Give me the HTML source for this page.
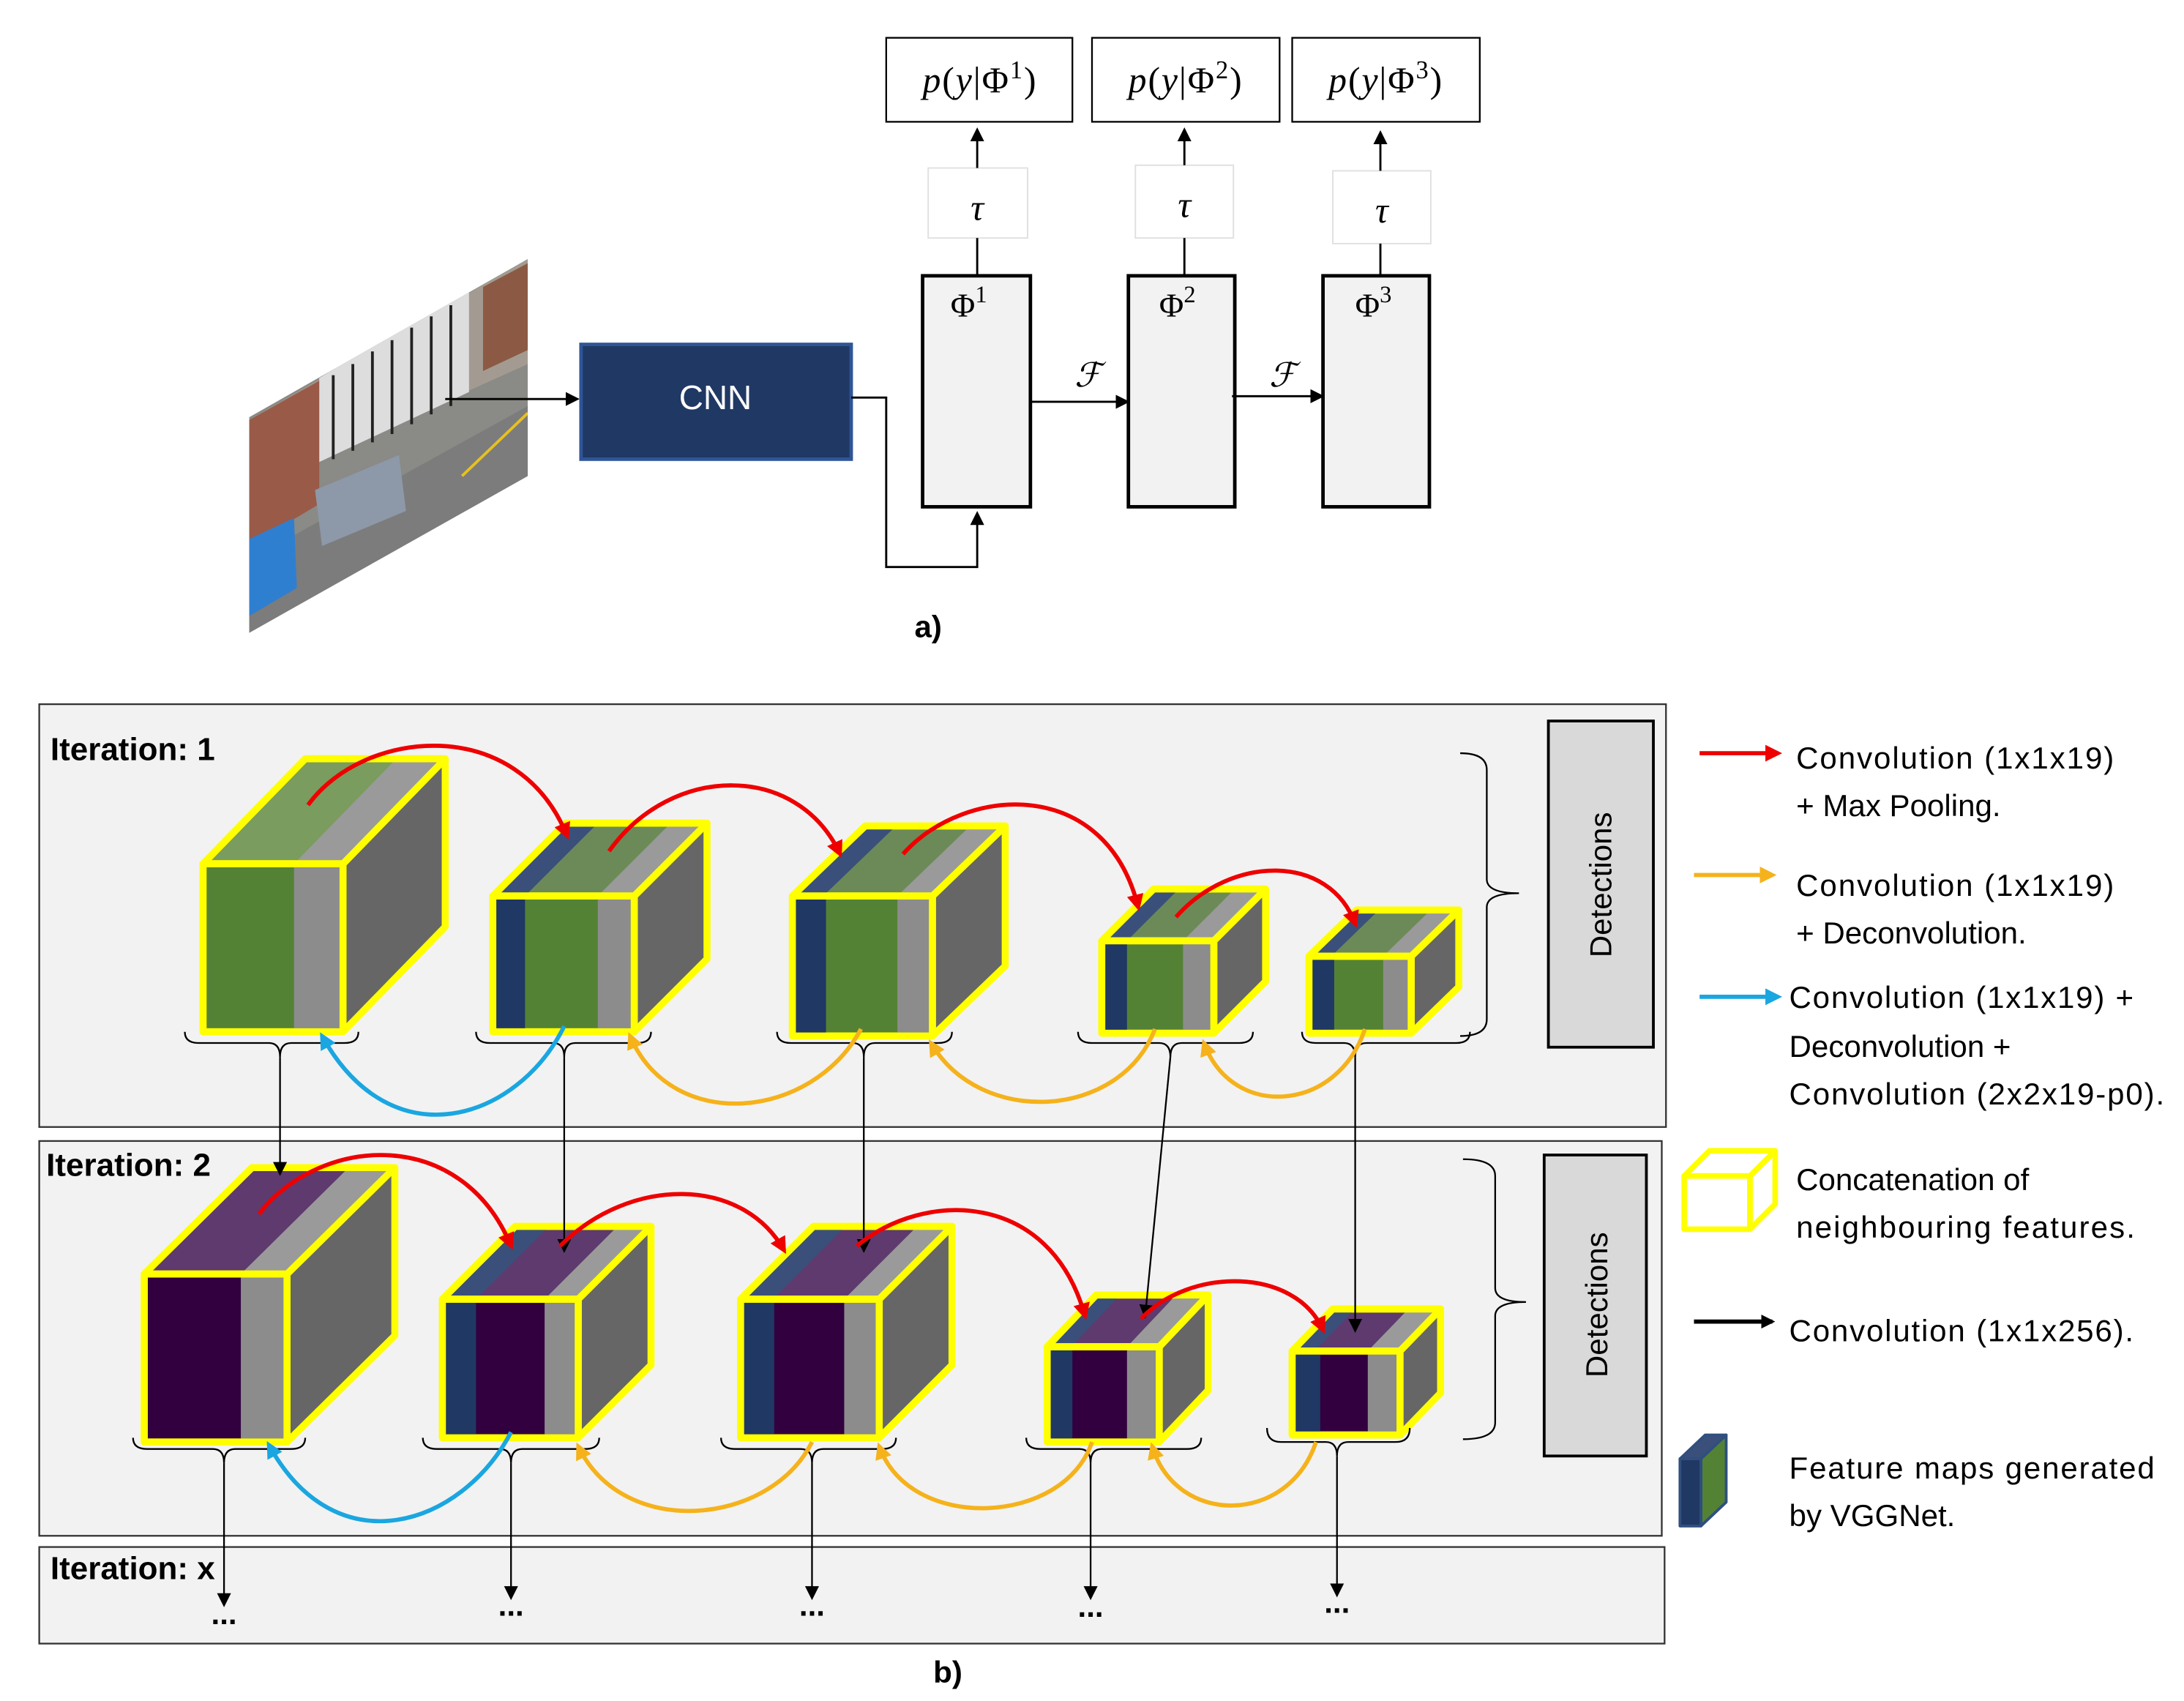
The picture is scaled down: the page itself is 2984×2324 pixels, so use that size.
<!DOCTYPE html>
<html><head><meta charset="utf-8"><style>
html,body{margin:0;padding:0;background:#fff;}
svg{display:block;}
text{font-family:"Liberation Sans",sans-serif;}
.m{font-family:"Liberation Serif",serif;font-style:italic;}
</style></head><body>
<svg width="2984" height="2324" viewBox="0 0 1560 1215" xmlns="http://www.w3.org/2000/svg">
<defs>
<marker id="ak" markerWidth="10" markerHeight="10" refX="8" refY="5" orient="auto" markerUnits="userSpaceOnUse"><path d="M0,0 L10,5 L0,10 z" fill="#000"/></marker>
<marker id="ar" markerWidth="12" markerHeight="12" refX="9" refY="6" orient="auto" markerUnits="userSpaceOnUse"><path d="M0,0 L12,6 L0,12 z" fill="#e00"/></marker>
<marker id="ao" markerWidth="12" markerHeight="12" refX="9" refY="6" orient="auto" markerUnits="userSpaceOnUse"><path d="M0,0 L12,6 L0,12 z" fill="#f5b21b"/></marker>
<marker id="ab" markerWidth="12" markerHeight="12" refX="9" refY="6" orient="auto" markerUnits="userSpaceOnUse"><path d="M0,0 L12,6 L0,12 z" fill="#1aa6e0"/></marker>
<clipPath id="ph"><polygon points="178,298 377,185 377,340 178,452"/></clipPath>
</defs>

<!-- photo -->
<g clip-path="url(#ph)">
<rect x="178" y="185" width="200" height="270" fill="#8a8a86"/>
<polygon points="178,300 377,185 377,260 178,350" fill="#a39b92"/>
<polygon points="228,270 335,205 335,280 228,330" fill="#ddd"/>
<g stroke="#222" stroke-width="2">
<line x1="238" y1="268" x2="238" y2="328"/><line x1="252" y1="260" x2="252" y2="322"/><line x1="266" y1="251" x2="266" y2="316"/><line x1="280" y1="243" x2="280" y2="310"/><line x1="294" y1="234" x2="294" y2="303"/><line x1="308" y1="226" x2="308" y2="296"/><line x1="322" y1="218" x2="322" y2="290"/>
</g>
<polygon points="178,300 228,272 228,360 178,390" fill="#9a5a48"/>
<polygon points="345,205 377,188 377,250 345,265" fill="#8c5a44"/>
<polygon points="178,400 377,290 377,340 178,452" fill="#7c7c7c"/>
<polygon points="225,350 285,325 290,365 230,390" fill="#8d98a8"/>
<polygon points="178,385 210,370 212,420 178,440" fill="#2f7fd0"/>
<line x1="330" y1="340" x2="377" y2="295" stroke="#e8c020" stroke-width="2"/>
</g>
<line x1="318" y1="285" x2="412" y2="285" stroke="#000" stroke-width="1.5" marker-end="url(#ak)"/>

<!-- CNN -->
<rect x="415" y="246" width="193" height="82" fill="#203864" stroke="#2f5597" stroke-width="2.5"/>
<text x="511" y="286" fill="#fff" font-size="24" text-anchor="middle" dominant-baseline="middle">CNN</text>
<polyline points="608,284 633,284 633,405 698,405 698,367" fill="none" stroke="#000" stroke-width="1.5" marker-end="url(#ak)"/>

<!-- phi boxes -->
<g fill="#f2f2f2" stroke="#000" stroke-width="2.5">
<rect x="659" y="197" width="77" height="165"/>
<rect x="806" y="197" width="76" height="165"/>
<rect x="945" y="197" width="76" height="165"/>
</g>
<g font-size="24" text-anchor="middle">
<text x="692" y="226" style="font-family:'Liberation Serif',serif">Φ<tspan font-size="17" dy="-10">1</tspan></text>
<text x="841" y="226" style="font-family:'Liberation Serif',serif">Φ<tspan font-size="17" dy="-10">2</tspan></text>
<text x="981" y="226" style="font-family:'Liberation Serif',serif">Φ<tspan font-size="17" dy="-10">3</tspan></text>
</g>
<g fill="#fff" stroke="#e0e0e0" stroke-width="1">
<rect x="663" y="120" width="71" height="50"/>
<rect x="811" y="118" width="70" height="52"/>
<rect x="952" y="122" width="70" height="52"/>
</g>
<g font-size="26" text-anchor="middle" class="m">
<text x="698" y="157" class="m">τ</text><text x="846" y="155" class="m">τ</text><text x="987" y="159" class="m">τ</text>
</g>
<g stroke="#000" stroke-width="1.5" fill="none">
<line x1="698" y1="197" x2="698" y2="170"/><line x1="698" y1="120" x2="698" y2="93" marker-end="url(#ak)"/>
<line x1="846" y1="197" x2="846" y2="170"/><line x1="846" y1="118" x2="846" y2="93" marker-end="url(#ak)"/>
<line x1="986" y1="197" x2="986" y2="174"/><line x1="986" y1="122" x2="986" y2="95" marker-end="url(#ak)"/>
<line x1="736" y1="287" x2="805" y2="287" marker-end="url(#ak)"/>
<line x1="880" y1="283" x2="944" y2="283" marker-end="url(#ak)"/>
</g>
<text x="777" y="276" font-size="24" text-anchor="middle" class="m">ℱ</text>
<text x="916" y="276" font-size="24" text-anchor="middle" class="m">ℱ</text>
<g fill="#fff" stroke="#000" stroke-width="1.2">
<rect x="633" y="27" width="133" height="60"/><rect x="780" y="27" width="134" height="60"/><rect x="923" y="27" width="134" height="60"/>
</g>
<g font-size="26" text-anchor="middle">
<text x="700" y="66" style="font-family:'Liberation Serif',serif" letter-spacing="1"><tspan font-style="italic">p</tspan>(<tspan font-style="italic">y</tspan>|Φ<tspan font-size="18" dy="-10">1</tspan><tspan dy="10">)</tspan></text>
<text x="847" y="66" style="font-family:'Liberation Serif',serif" letter-spacing="1"><tspan font-style="italic">p</tspan>(<tspan font-style="italic">y</tspan>|Φ<tspan font-size="18" dy="-10">2</tspan><tspan dy="10">)</tspan></text>
<text x="990" y="66" style="font-family:'Liberation Serif',serif" letter-spacing="1"><tspan font-style="italic">p</tspan>(<tspan font-style="italic">y</tspan>|Φ<tspan font-size="18" dy="-10">3</tspan><tspan dy="10">)</tspan></text>
</g>
<text x="663" y="455" font-size="22" font-weight="bold" text-anchor="middle">a)</text>

<!-- panels -->
<g fill="#f2f2f2" stroke="#333" stroke-width="1.2">
<rect x="28" y="503" width="1162" height="302"/>
<rect x="28" y="815" width="1159" height="282"/>
<rect x="28" y="1105" width="1161" height="69"/>
</g>
<g font-size="23" font-weight="bold">
<text x="36" y="543">Iteration: 1</text>
<text x="33" y="840">Iteration: 2</text>
<text x="36" y="1128">Iteration: x</text>
</g>
<text x="677" y="1202" font-size="22" font-weight="bold" text-anchor="middle">b)</text>

<g fill="#d9d9d9" stroke="#000" stroke-width="2">
<rect x="1106" y="515" width="75" height="233"/>
<rect x="1103" y="825" width="73" height="215"/>
</g>
<text transform="translate(1151,632) rotate(-90)" font-size="22" text-anchor="middle">Detections</text>
<text transform="translate(1148,932) rotate(-90)" font-size="22" text-anchor="middle">Detections</text>
<g fill="none" stroke="#000" stroke-width="1.2">
<path d="M1043,538 Q1062,538 1062,550 L1062,628 Q1062,638 1085,638 Q1062,638 1062,648 L1062,728 Q1062,740 1043,740"/>
<path d="M1045,828 Q1068,828 1068,840 L1068,920 Q1068,930 1090,930 Q1068,930 1068,940 L1068,1016 Q1068,1028 1045,1028"/>
</g>

<!-- cubes row 1 -->
<g stroke="#ffff00" stroke-width="5" stroke-linejoin="round">
 <polygon points="245,617 318,542 318,662 245,737" fill="#666"/>
 <polygon points="145,617 218,542 318,542 245,617" fill="#7a9c5e"/>
 <polygon points="210,617 283,542 318,542 245,617" fill="#9a9a9a" stroke="none"/>
 <rect x="145" y="617" width="100" height="120" fill="#548235"/>
 <rect x="210" y="619" width="33" height="116" fill="#8c8c8c" stroke="none"/>
 <rect x="145" y="617" width="100" height="120" fill="none"/>
 <polygon points="145,617 218,542 318,542 245,617" fill="none"/>

 <polygon points="453,640 505,588 505,685 453,737" fill="#666"/>
 <polygon points="352,640 404,588 505,588 453,640" fill="#6c8a58"/>
 <polygon points="352,640 404,588 427,588 375,640" fill="#3a507a" stroke="none"/>
 <polygon points="427,640 479,588 505,588 453,640" fill="#9a9a9a" stroke="none"/>
 <rect x="352" y="640" width="101" height="97" fill="#548235"/>
 <rect x="354" y="642" width="21" height="93" fill="#203864" stroke="none"/>
 <rect x="427" y="642" width="24" height="93" fill="#8c8c8c" stroke="none"/>
 <rect x="352" y="640" width="101" height="97" fill="none"/>
 <polygon points="352,640 404,588 505,588 453,640" fill="none"/>

 <polygon points="666,640 718,590 718,690 666,740" fill="#666"/>
 <polygon points="566,640 618,590 718,590 666,640" fill="#6c8a58"/>
 <polygon points="566,640 618,590 640,590 588,640" fill="#3a507a" stroke="none"/>
 <polygon points="641,640 693,590 718,590 666,640" fill="#9a9a9a" stroke="none"/>
 <rect x="566" y="640" width="100" height="100" fill="#548235"/>
 <rect x="568" y="642" width="22" height="96" fill="#203864" stroke="none"/>
 <rect x="641" y="642" width="23" height="96" fill="#8c8c8c" stroke="none"/>
 <rect x="566" y="640" width="100" height="100" fill="none"/>
 <polygon points="566,640 618,590 718,590 666,640" fill="none"/>

 <polygon points="867,672 904,635 904,701 867,738" fill="#666"/>
 <polygon points="787,672 824,635 904,635 867,672" fill="#6c8a58"/>
 <polygon points="787,672 824,635 842,635 805,672" fill="#3a507a" stroke="none"/>
 <polygon points="845,672 882,635 904,635 867,672" fill="#9a9a9a" stroke="none"/>
 <rect x="787" y="672" width="80" height="66" fill="#548235"/>
 <rect x="789" y="674" width="16" height="62" fill="#203864" stroke="none"/>
 <rect x="845" y="674" width="20" height="62" fill="#8c8c8c" stroke="none"/>
 <rect x="787" y="672" width="80" height="66" fill="none"/>
 <polygon points="787,672 824,635 904,635 867,672" fill="none"/>

 <polygon points="1008,683 1042,650 1042,705 1008,738" fill="#666"/>
 <polygon points="935,683 969,650 1042,650 1008,683" fill="#6c8a58"/>
 <polygon points="935,683 969,650 985,650 951,683" fill="#3a507a" stroke="none"/>
 <polygon points="988,683 1022,650 1042,650 1008,683" fill="#9a9a9a" stroke="none"/>
 <rect x="935" y="683" width="73" height="55" fill="#548235"/>
 <rect x="937" y="685" width="16" height="51" fill="#203864" stroke="none"/>
 <rect x="988" y="685" width="18" height="51" fill="#8c8c8c" stroke="none"/>
 <rect x="935" y="683" width="73" height="55" fill="none"/>
 <polygon points="935,683 969,650 1042,650 1008,683" fill="none"/>
</g>

<!-- cubes row 2 -->
<g stroke="#ffff00" stroke-width="5" stroke-linejoin="round">
 <polygon points="205,910 282,834 282,954 205,1030" fill="#666"/>
 <polygon points="103,910 180,834 282,834 205,910" fill="#5e3a6e"/>
 <polygon points="172,910 249,834 282,834 205,910" fill="#9a9a9a" stroke="none"/>
 <rect x="103" y="910" width="102" height="120" fill="#32003f"/>
 <rect x="172" y="912" width="31" height="116" fill="#8c8c8c" stroke="none"/>
 <rect x="103" y="910" width="102" height="120" fill="none"/>
 <polygon points="103,910 180,834 282,834 205,910" fill="none"/>

 <polygon points="413,928 465,876 465,975 413,1027" fill="#666"/>
 <polygon points="316,928 368,876 465,876 413,928" fill="#5e3a6e"/>
 <polygon points="316,928 368,876 392,876 340,928" fill="#3a507a" stroke="none"/>
 <polygon points="389,928 441,876 465,876 413,928" fill="#9a9a9a" stroke="none"/>
 <rect x="316" y="928" width="97" height="99" fill="#32003f"/>
 <rect x="318" y="930" width="22" height="95" fill="#203864" stroke="none"/>
 <rect x="389" y="930" width="22" height="95" fill="#8c8c8c" stroke="none"/>
 <rect x="316" y="928" width="97" height="99" fill="none"/>
 <polygon points="316,928 368,876 465,876 413,928" fill="none"/>

 <polygon points="628,928 680,876 680,975 628,1027" fill="#666"/>
 <polygon points="529,928 581,876 680,876 628,928" fill="#5e3a6e"/>
 <polygon points="529,928 581,876 604,876 552,928" fill="#3a507a" stroke="none"/>
 <polygon points="603,928 655,876 680,876 628,928" fill="#9a9a9a" stroke="none"/>
 <rect x="529" y="928" width="99" height="99" fill="#32003f"/>
 <rect x="531" y="930" width="22" height="95" fill="#203864" stroke="none"/>
 <rect x="603" y="930" width="23" height="95" fill="#8c8c8c" stroke="none"/>
 <rect x="529" y="928" width="99" height="99" fill="none"/>
 <polygon points="529,928 581,876 680,876 628,928" fill="none"/>

 <polygon points="828,962 863,925 863,993 828,1030" fill="#666"/>
 <polygon points="748,962 783,925 863,925 828,962" fill="#5e3a6e"/>
 <polygon points="748,962 783,925 800,925 765,962" fill="#3a507a" stroke="none"/>
 <polygon points="805,962 840,925 863,925 828,962" fill="#9a9a9a" stroke="none"/>
 <rect x="748" y="962" width="80" height="68" fill="#32003f"/>
 <rect x="750" y="964" width="16" height="64" fill="#203864" stroke="none"/>
 <rect x="805" y="964" width="21" height="64" fill="#8c8c8c" stroke="none"/>
 <rect x="748" y="962" width="80" height="68" fill="none"/>
 <polygon points="748,962 783,925 863,925 828,962" fill="none"/>

 <polygon points="1000,965 1029,935 1029,995 1000,1025" fill="#666"/>
 <polygon points="923,965 952,935 1029,935 1000,965" fill="#5e3a6e"/>
 <polygon points="923,965 952,935 968,935 939,965" fill="#3a507a" stroke="none"/>
 <polygon points="977,965 1006,935 1029,935 1000,965" fill="#9a9a9a" stroke="none"/>
 <rect x="923" y="965" width="77" height="60" fill="#32003f"/>
 <rect x="925" y="967" width="18" height="56" fill="#203864" stroke="none"/>
 <rect x="977" y="967" width="21" height="56" fill="#8c8c8c" stroke="none"/>
 <rect x="923" y="965" width="77" height="60" fill="none"/>
 <polygon points="923,965 952,935 1029,935 1000,965" fill="none"/>
</g>

<!-- braces -->
<g fill="none" stroke="#000" stroke-width="1.2">
<path d="M132,737 Q132,745 142,745 L192,745 Q200,745 200,755 Q200,745 208,745 L246,745 Q256,745 256,737"/>
<path d="M340,737 Q340,745 350,745 L395,745 Q403,745 403,755 Q403,745 411,745 L455,745 Q465,745 465,737"/>
<path d="M555,737 Q555,745 565,745 L609,745 Q617,745 617,755 Q617,745 625,745 L670,745 Q680,745 680,737"/>
<path d="M770,737 Q770,745 780,745 L828,745 Q836,745 836,755 Q836,745 844,745 L885,745 Q895,745 895,737"/>
<path d="M930,737 Q930,745 940,745 L960,745 Q968,745 968,755 Q968,745 976,745 L1040,745 Q1050,745 1050,737"/>
<path d="M95,1027 Q95,1035 105,1035 L152,1035 Q160,1035 160,1045 Q160,1035 168,1035 L208,1035 Q218,1035 218,1027"/>
<path d="M302,1027 Q302,1035 312,1035 L357,1035 Q365,1035 365,1045 Q365,1035 373,1035 L418,1035 Q428,1035 428,1027"/>
<path d="M515,1027 Q515,1035 525,1035 L572,1035 Q580,1035 580,1045 Q580,1035 588,1035 L630,1035 Q640,1035 640,1027"/>
<path d="M733,1027 Q733,1035 743,1035 L771,1035 Q779,1035 779,1045 Q779,1035 787,1035 L848,1035 Q858,1035 858,1027"/>
<path d="M905,1020 Q905,1030 915,1030 L947,1030 Q955,1030 955,1040 Q955,1030 963,1030 L997,1030 Q1007,1030 1007,1020"/>
</g>

<g stroke="#000" stroke-width="1.2" fill="none" marker-end="url(#ak)">
<line x1="200" y1="755" x2="200" y2="838"/>
<line x1="403" y1="755" x2="403" y2="893"/>
<line x1="617" y1="755" x2="617" y2="893"/>
<line x1="836" y1="755" x2="818" y2="940"/>
<line x1="968" y1="755" x2="968" y2="950"/>
<line x1="160" y1="1045" x2="160" y2="1146"/>
<line x1="365" y1="1045" x2="365" y2="1141"/>
<line x1="580" y1="1045" x2="580" y2="1141"/>
<line x1="779" y1="1045" x2="779" y2="1141"/>
<line x1="955" y1="1040" x2="955" y2="1139"/>
</g>
<g font-size="22" font-weight="bold" text-anchor="middle">
<text x="160" y="1160">...</text><text x="365" y="1154">...</text><text x="580" y="1154">...</text><text x="779" y="1155">...</text><text x="955" y="1152">...</text>
</g>

<g fill="none" stroke="#e00" stroke-width="3" marker-end="url(#ar)">
<path d="M220,575 C260,520 370,510 405,597"/>
<path d="M435,608 C480,545 570,545 600,610"/>
<path d="M645,610 C690,560 790,555 813,648"/>
<path d="M840,655 C880,610 950,610 968,660"/>
<path d="M185,867 C230,810 330,805 365,890"/>
<path d="M400,890 C450,840 530,840 560,893"/>
<path d="M612,890 C660,850 750,850 775,940"/>
<path d="M815,942 C850,905 925,905 945,950"/>
</g>
<g fill="none" stroke="#1aa6e0" stroke-width="3" marker-end="url(#ab)">
<path d="M403,733 C370,800 280,830 230,740"/>
<path d="M365,1023 C330,1090 240,1120 192,1032"/>
</g>
<g fill="none" stroke="#f5b21b" stroke-width="3" marker-end="url(#ao)">
<path d="M615,735 C580,800 480,810 450,740"/>
<path d="M825,735 C800,800 700,805 665,745"/>
<path d="M975,735 C955,795 880,800 860,745"/>
<path d="M580,1030 C550,1090 445,1100 413,1033"/>
<path d="M780,1030 C760,1090 650,1095 628,1033"/>
<path d="M940,1030 C920,1090 840,1090 823,1033"/>
</g>

<!-- legend -->
<line x1="1214" y1="538" x2="1270" y2="538" stroke="#e00" stroke-width="3" marker-end="url(#ar)"/>
<line x1="1210" y1="625" x2="1266" y2="625" stroke="#f5b21b" stroke-width="3" marker-end="url(#ao)"/>
<line x1="1214" y1="712" x2="1270" y2="712" stroke="#1aa6e0" stroke-width="3" marker-end="url(#ab)"/>
<line x1="1210" y1="944" x2="1266" y2="944" stroke="#000" stroke-width="3" marker-end="url(#ak)"/>
<g font-size="22">
<text x="1283" y="549" textLength="227">Convolution (1x1x19)</text>
<text x="1283" y="583">+ Max Pooling.</text>
<text x="1283" y="640" textLength="227">Convolution (1x1x19)</text>
<text x="1283" y="674">+ Deconvolution.</text>
<text x="1278" y="720" textLength="246">Convolution (1x1x19) +</text>
<text x="1278" y="755">Deconvolution +</text>
<text x="1278" y="789" textLength="268">Convolution (2x2x19-p0).</text>
<text x="1283" y="850">Concatenation of</text>
<text x="1283" y="884" textLength="242">neighbouring features.</text>
<text x="1278" y="958" textLength="246">Convolution (1x1x256).</text>
<text x="1278" y="1056" textLength="261">Feature maps generated</text>
<text x="1278" y="1090">by VGGNet.</text>
</g>
<g fill="none" stroke="#ffff00" stroke-width="4" stroke-linejoin="round">
<polygon points="1203,840 1221,822 1268,822 1250,840"/>
<rect x="1203" y="840" width="47" height="38"/>
<polygon points="1250,840 1268,822 1268,860 1250,878"/>
</g>
<g stroke="#2f4f7f" stroke-width="2" stroke-linejoin="round">
<polygon points="1200,1042 1218,1025 1233,1025 1215,1042" fill="#3a507a"/>
<polygon points="1215,1042 1233,1025 1233,1073 1215,1090" fill="#548235"/>
<rect x="1200" y="1042" width="15" height="48" fill="#203864"/>
</g>
</svg>
</body></html>
